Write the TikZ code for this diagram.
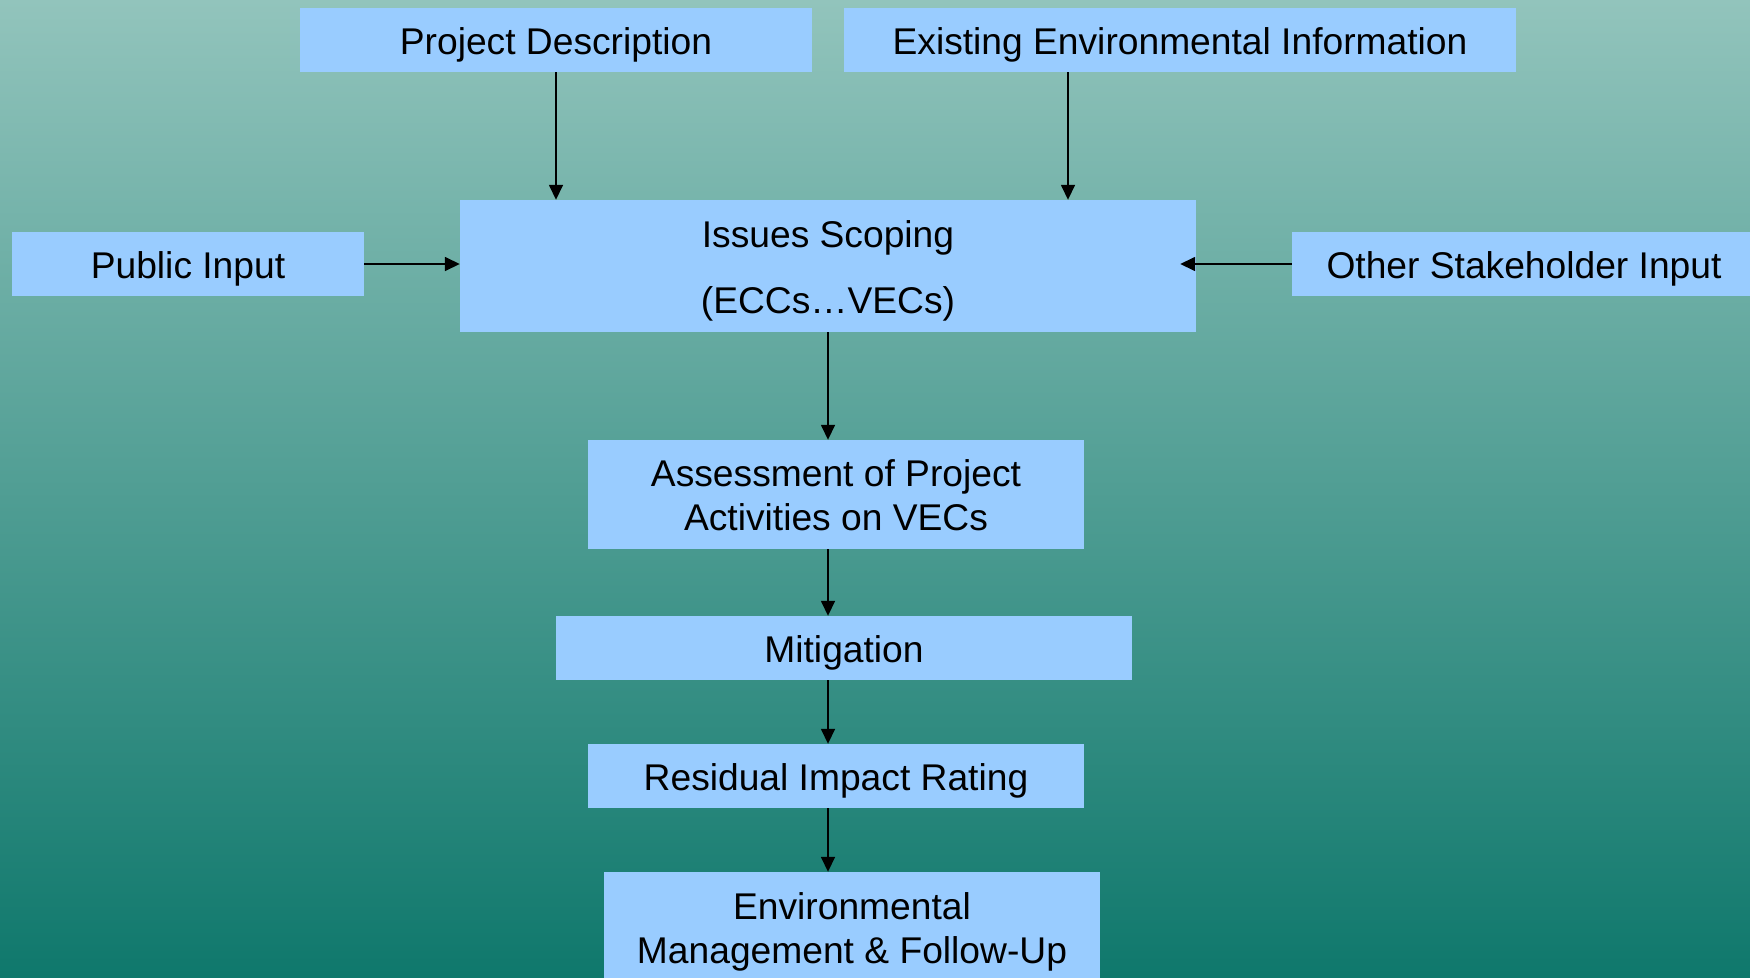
\documentclass[tikz,border=0pt]{standalone}
\usepackage{fontspec}
\setmainfont{Liberation Sans}
\usetikzlibrary{arrows.meta}
\definecolor{boxfill}{HTML}{99CCFF}
\definecolor{bgtop}{HTML}{92C4BC}
\definecolor{bgmid}{HTML}{4FA197}
\definecolor{bgbot}{HTML}{0F786C}
\tikzset{
  box/.style={rectangle, fill=boxfill, inner sep=0pt},
  boxtext/.style={inner sep=0pt, align=center, yshift=-4.5pt,
    font=\fontsize{37.2pt}{44pt}\selectfont},
  arr/.style={line width=1.6pt, -{Triangle[length=15pt,width=14pt]}}
}
\begin{document}
\begin{tikzpicture}[x=1pt,y=-1pt]
\useasboundingbox (0,0) rectangle (1750,977);
\clip (0,0) rectangle (1750,977);
\shade[top color=bgtop, middle color=bgmid, bottom color=bgbot] (0,0) rectangle (1750,977);
\node[box, minimum width=512pt, minimum height=64pt, label={[boxtext]center:Project Description}] (pd) at (556,40) {};
\node[box, minimum width=672pt, minimum height=64pt, label={[boxtext]center:Existing Environmental Information}] (ex) at (1180,40) {};
\node[box, minimum width=352pt, minimum height=64pt, label={[boxtext]center:Public Input}] (pub) at (188,264) {};
\node[box, minimum width=464pt, minimum height=64pt, label={[boxtext]center:Other Stakeholder Input}] (oth) at (1524,264) {};
\node[box, minimum width=736pt, minimum height=132pt, label={[boxtext, font=\fontsize{37.2pt}{66pt}\selectfont]center:Issues Scoping\\(ECCs\dots VECs)}] (iss) at (828,266) {};
\node[box, minimum width=496pt, minimum height=109pt, label={[boxtext, yshift=3.5pt]center:Assessment of Project\\Activities on VECs}] (as) at (836,494.5) {};
\node[box, minimum width=576pt, minimum height=64pt, label={[boxtext]center:Mitigation}] (mit) at (844,648) {};
\node[box, minimum width=496pt, minimum height=64pt, label={[boxtext]center:Residual Impact Rating}] (res) at (836,776) {};
\node[box, minimum width=496pt, minimum height=110pt, label={[boxtext]center:Environmental\\Management \& Follow-Up}] (env) at (852,927) {};
\draw[arr] (pd.south) -- (pd.south |- iss.north);
\draw[arr] ([xshift=-112pt]ex.south) -- ([xshift=-112pt]ex.south |- iss.north);
\draw[arr] (pub.east) -- (pub.east -| iss.west);
\draw[arr] (oth.west) -- ([xshift=-16pt]oth.west -| iss.east);
\draw[arr] (iss.south) -- (iss.south |- as.north);
\draw[arr] (iss.south |- as.south) -- (iss.south |- mit.north);
\draw[arr] (iss.south |- mit.south) -- (iss.south |- res.north);
\draw[arr] (iss.south |- res.south) -- (iss.south |- env.north);
\end{tikzpicture}
\end{document}
